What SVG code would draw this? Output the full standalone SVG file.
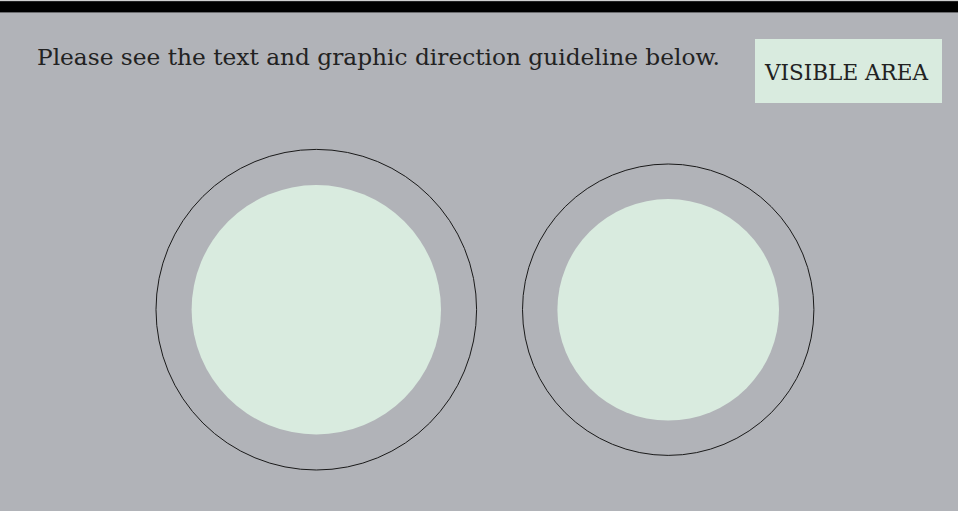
<svg xmlns="http://www.w3.org/2000/svg" width="958" height="511" viewBox="0 0 958 511">
<style>
.bg{fill:#b1b3b8}
.ring{fill:none;stroke:#1a1a1a;stroke-width:1}
.area{fill:#d9ebdf}
.t{font-family:"DejaVu Serif","Liberation Serif",serif;fill:#222}
</style>
<rect class="bg" x="0" y="0" width="958" height="511"/>
<rect x="0" y="0" width="958" height="1.2" fill="#d0d0d0"/>
<rect x="0" y="1.2" width="958" height="11.2" fill="#000"/>
<g id="title">
<text class="t" x="37" y="64.5" font-size="22" textLength="683" lengthAdjust="spacingAndGlyphs">Please see the text and graphic direction guideline below.</text>
</g>
<g id="visible-area-label">
<rect class="area" x="755" y="39" width="187" height="64"/>
<text class="t" x="765" y="80" font-size="23" fill="#111" textLength="163" lengthAdjust="spacingAndGlyphs">VISIBLE AREA</text>
</g>
<g id="circle-left">
<circle class="ring" cx="316.3" cy="309.7" r="160.3"/>
<circle class="area" cx="316.3" cy="309.8" r="124.7"/>
</g>
<g id="circle-right">
<circle class="ring" cx="668.2" cy="309.7" r="145.7"/>
<circle class="area" cx="668.2" cy="309.8" r="110.8"/>
</g>
<g id="connectors"></g>
</svg>
